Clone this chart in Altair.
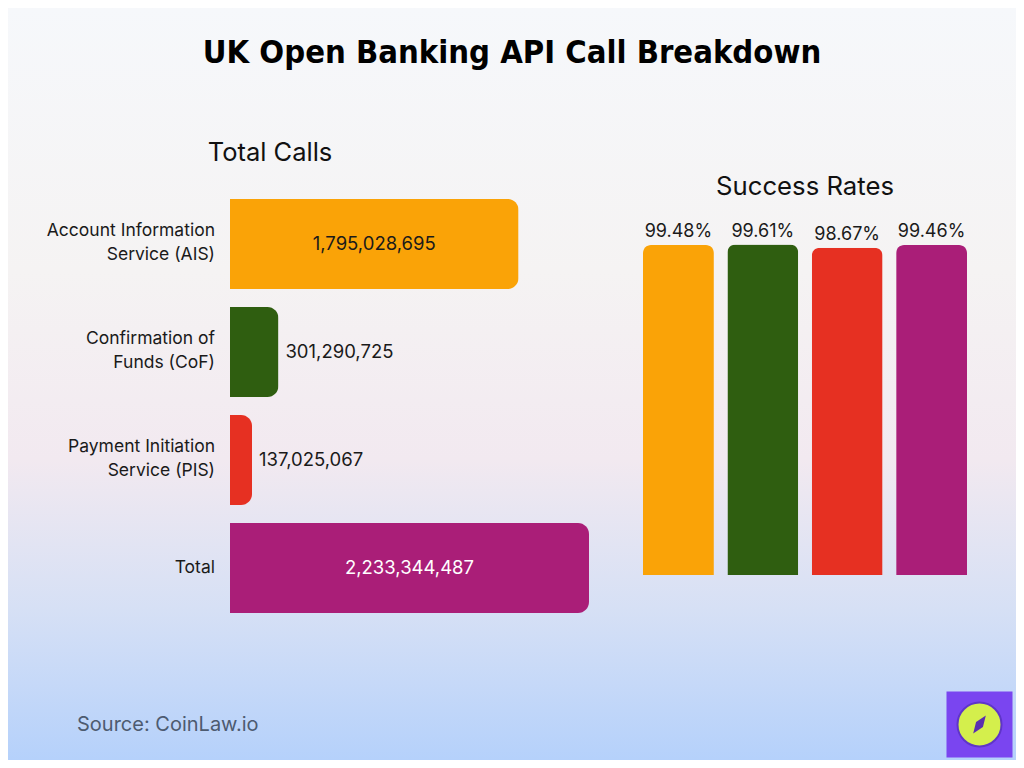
import altair as alt
import pandas as pd

# ---- data ----
call_categories = ["Account Information\nService (AIS)", "Confirmation of\nFunds (CoF)",
                   "Payment Initiation\nService (PIS)", "Total"]
call_values = [1795028695, 301290725, 137025067, 2233344487]
call_inside = [True, False, False, True]
call_multiline = [True, True, True, False]
call_text_colors = ["#1a1a1a", "#1a1a1a", "#1a1a1a", "#ffffff"]

rate_services = ["AIS", "CoF", "PIS", "Total"]
rate_values = [99.48, 99.61, 98.67, 99.46]

palette = ["#FAA307", "#2F5E10", "#E63022", "#AA1E78"]

W, H = 1008, 752
FONT = "Inter"

calls = pd.DataFrame({"category": call_categories, "value": call_values,
                      "inside": call_inside, "multi": call_multiline,
                      "tcolor": call_text_colors})
rates = pd.DataFrame({"service": rate_services, "rate": rate_values})
one = pd.DataFrame({"k": [0]})

# ---- background ----
bg = alt.Chart(one).mark_rect(
    fill=alt.Gradient(gradient="linear", x1=0, y1=0, x2=0, y2=1,
                      stops=[alt.GradientStop(offset=0, color="#f6f8fb"),
                             alt.GradientStop(offset=0.35, color="#f5f3f3"),
                             alt.GradientStop(offset=0.6, color="#f2e9f0"),
                             alt.GradientStop(offset=0.8, color="#d6e0f5"),
                             alt.GradientStop(offset=1, color="#b5d1fb")])
).encode(x=alt.value(0), x2=alt.value(W), y=alt.value(0), y2=alt.value(H))

def label(text, x, y, size, color="#111111", weight="normal", align="center", font=FONT):
    return alt.Chart(one).mark_text(text=text, fontSize=size, color=color, fontWeight=weight,
                                    align=align, baseline="middle", font=font
                                    ).encode(x=alt.value(x), y=alt.value(y))

title = label("UK Open Banking API Call Breakdown", 504, 45, 32.5, "#000000", "bold",
              font="DejaVu Sans Condensed")
t_calls = label("Total Calls", 262, 145, 25.5)
t_rates = label("Success Rates", 797, 179, 25.7)
source = label("Source: CoinLaw.io", 69, 717, 20, "#4d5b70", align="left")

# ---- left: total calls ----
xs = alt.Scale(domain=[0, max(call_values)], range=[222, 581])
ys = alt.Scale(domain=call_categories, range=[191, 605], paddingInner=18 / 108, paddingOuter=0)
Y = alt.Y("category:N", scale=ys, axis=None, sort=call_categories)
base_l = alt.Chart(calls)
bars_l = base_l.mark_bar(cornerRadiusTopRight=11, cornerRadiusBottomRight=11).encode(
    x=alt.X("value:Q", scale=xs, axis=None),
    y=Y,
    color=alt.Color("category:N", scale=alt.Scale(domain=call_categories, range=palette), legend=None),
)
cat_multi = base_l.transform_filter("datum.multi").mark_text(
    align="right", baseline="middle", fontSize=17.5, lineBreak="\n", lineHeight=24, dy=-13,
    color="#1a1a1a", font=FONT).encode(x=alt.value(207), y=Y, text="category:N")
cat_single = base_l.transform_filter("!datum.multi").mark_text(
    align="right", baseline="middle", fontSize=17.5, color="#1a1a1a", font=FONT).encode(
    x=alt.value(207), y=Y, text="category:N")
in_l = base_l.transform_filter("datum.inside").transform_calculate(mid="datum.value/2").mark_text(
    align="center", baseline="middle", fontSize=18.5, font=FONT).encode(
    x=alt.X("mid:Q", scale=xs, axis=None),
    y=Y,
    text=alt.Text("value:Q", format=","),
    color=alt.Color("tcolor:N", scale=None),
)
out_l = base_l.transform_filter("!datum.inside").mark_text(
    align="left", baseline="middle", fontSize=18.5, dx=7, color="#1a1a1a", font=FONT).encode(
    x=alt.X("value:Q", scale=xs, axis=None),
    y=Y,
    text=alt.Text("value:Q", format=","),
)
left = alt.layer(bars_l, cat_multi, cat_single, in_l, out_l)

# ---- right: success rates ----
xr = alt.Scale(domain=rate_services, range=[635, 959], paddingInner=0.16, paddingOuter=0)
yr = alt.Scale(domain=[0, 100], range=[567, 235.3])
base_r = alt.Chart(rates)
bars_r = base_r.mark_bar(cornerRadiusTopLeft=8, cornerRadiusTopRight=8).encode(
    x=alt.X("service:N", scale=xr, axis=None, sort=rate_services),
    y=alt.Y("rate:Q", scale=yr, axis=None),
    color=alt.Color("service:N", scale=alt.Scale(domain=rate_services, range=palette), legend=None),
)
txt_r = base_r.transform_calculate(lbl="format(datum.rate, '.2f') + '%'").mark_text(
    align="center", baseline="middle", fontSize=18, dy=-13, color="#1a1a1a", font=FONT).encode(
    x=alt.X("service:N", scale=xr, axis=None, sort=rate_services),
    y=alt.Y("rate:Q", scale=yr, axis=None),
    text="lbl:N",
)
right = alt.layer(bars_r, txt_r)

# ---- logo ----
logo_sq = alt.Chart(one).mark_point(shape="square", size=66 * 66, filled=True, fill="#7A45F0",
                                    opacity=1, strokeWidth=0).encode(x=alt.value(971.5), y=alt.value(716.5))
logo_c = alt.Chart(one).mark_point(shape="circle", size=44 * 44, filled=True, fill="#D4EF4C",
                                   stroke="#5f35c8", strokeWidth=2, opacity=1).encode(
    x=alt.value(971.5), y=alt.value(716.5))
logo_d = alt.Chart(one).mark_point(shape="M0,-1L0.38,0L0,1L-0.38,0Z", size=480, filled=True,
                                   fill="#5a2fb0", angle=35, opacity=1, strokeWidth=0).encode(
    x=alt.value(971.5), y=alt.value(716.5))

chart = alt.layer(bg, title, t_calls, t_rates, source, left, right, logo_sq, logo_c, logo_d
                  ).resolve_scale(x="independent", y="independent", color="independent"
                  ).properties(width=W, height=H, padding=0,
                               autosize=alt.AutoSizeParams(type="none")
                  ).configure_view(stroke=None)

chart.save("out.html", embed_options={"renderer": "svg", "actions": False})
